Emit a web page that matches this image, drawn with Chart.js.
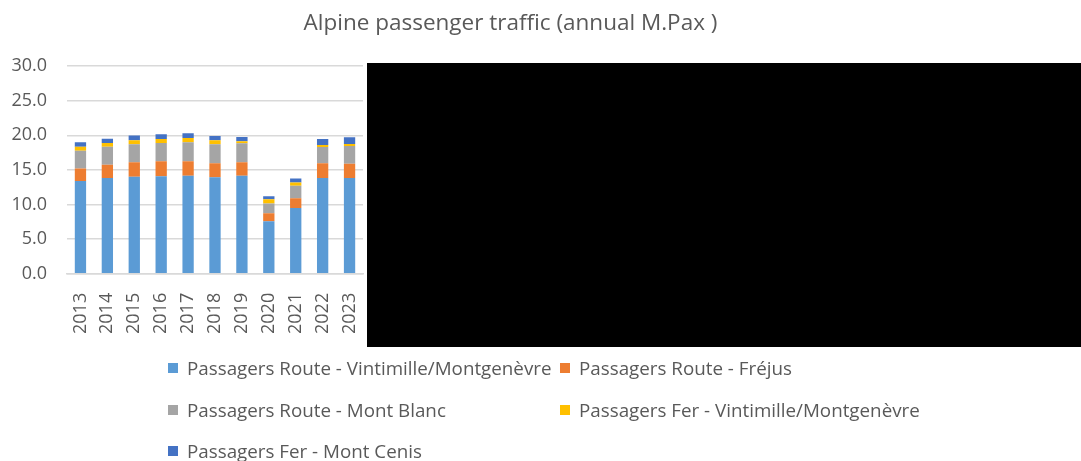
<!DOCTYPE html>
<html>
<head>
<meta charset="utf-8">
<script src="https://cdn.jsdelivr.net/npm/chart.js@4.4.1/dist/chart.umd.min.js"></script>
<style>
  html, body { margin: 0; padding: 0; background: #fff; }
  #wrap { position: relative; width: 1081px; height: 461px; overflow: hidden; }
  .lg { position: absolute; display: flex; align-items: center; white-space: nowrap;
    height: 26px; margin-top: -13px;
    font-family: "Open Sans", sans-serif; font-size: 18.8px; color: #595959; }
  .lg span { display: inline-block; flex-shrink: 0; width: 10px; height: 10px; margin-right: 9px; }
</style>
</head>
<body>
<div id="wrap">
  <canvas id="mycan" width="1081" height="461"></canvas>
</div>
<script>
var years = ['2013','2014','2015','2016','2017','2018','2019','2020','2021','2022','2023'];
var routeVintimille = [13.4, 13.85, 14.0, 14.1, 14.15, 13.95, 14.15, 7.6, 9.5, 13.85, 13.85];
var routeFrejus     = [1.8, 1.9, 2.1, 2.15, 2.1, 2.0, 1.95, 1.15, 1.4, 2.1, 2.05];
var routeMontBlanc  = [2.55, 2.6, 2.6, 2.65, 2.75, 2.75, 2.75, 1.4, 1.8, 2.35, 2.55];
var ferVintimille   = [0.6, 0.55, 0.6, 0.55, 0.6, 0.6, 0.3, 0.6, 0.5, 0.3, 0.3];
var ferMontCenis    = [0.65, 0.6, 0.65, 0.7, 0.7, 0.6, 0.6, 0.45, 0.55, 0.85, 0.95];
var yTicks = [0, 5, 10, 15, 20, 25, 30];

var seriesNames = ['Passagers Route - Vintimille/Montgenèvre', 'Passagers Route - Fréjus',
  'Passagers Route - Mont Blanc', 'Passagers Fer - Vintimille/Montgenèvre', 'Passagers Fer - Mont Cenis'];
var seriesColors = ['#5B9BD5', '#ED7D31', '#A5A5A5', '#FFC000', '#4472C4'];
var seriesData = [routeVintimille, routeFrejus, routeMontBlanc, ferVintimille, ferMontCenis];

var datasets = [];
for (var i in seriesNames) {
  datasets.push({
    label: seriesNames[i],
    data: seriesData[i],
    backgroundColor: seriesColors[i],
    borderWidth: 0,
    barPercentage: 0.42,
    categoryPercentage: 1
  });
}

// black box covering the right part of the original picture
var blackBox = {
  id: 'blackBox',
  afterDraw: function(chart) {
    var ctx = chart.ctx;
    ctx.save();
    ctx.fillStyle = '#000';
    ctx.fillRect(367, 63, 1081 - 367, 347 - 63);
    ctx.restore();
  }
};

var gray = '#595959';
var bargraph = new Chart(document.getElementById('mycan'), {
  type: 'bar',
  data: { labels: years, datasets: datasets },
  plugins: [blackBox],
  options: {
    responsive: false,
    animation: false,
    layout: { padding: { left: 10, right: 70, top: 9, bottom: 116 } },
    plugins: {
      legend: { display: false },
      tooltip: { enabled: false },
      title: {
        display: true,
        text: 'Alpine passenger traffic (annual M.Pax )',
        color: gray,
        font: { family: 'Open Sans', size: 22.5, weight: 'normal' },
        padding: { top: 1, bottom: 29 }
      }
    },
    scales: {
      x: {
        stacked: true,
        grid: { display: false },
        border: { color: '#D9D9D9', width: 1.5 },
        ticks: {
          color: gray, font: { family: 'Open Sans', size: 18 },
          minRotation: 90, maxRotation: 90, padding: 11
        }
      },
      y: {
        stacked: true,
        min: 0, max: 30,
        afterBuildTicks: function(scale) {
          scale.ticks = yTicks.map(function(v) { return { value: v }; });
        },
        afterFit: function(scale) { scale.width = 57; },
        grid: { color: '#D9D9D9', lineWidth: 1.5, drawTicks: false },
        border: { display: false },
        ticks: {
          color: gray, font: { family: 'Open Sans', size: 18 }, padding: 20,
          callback: function(v) { return v.toFixed(1); }
        }
      },
      spacer: {
        position: 'right',
        display: true,
        grid: { display: false, drawTicks: false },
        border: { display: false },
        ticks: { display: false },
        afterFit: function(scale) { scale.width = 1081 - 70 - 363; }
      }
    }
  }
});

// legend laid out in two columns like the original
var legendX = [168, 560];
var legendY = [368, 410, 451];
var wrap = document.getElementById('wrap');
for (var j = 0; j < seriesNames.length; j++) {
  var item = document.createElement('div');
  item.className = 'lg';
  item.style.left = legendX[j % 2] + 'px';
  item.style.top = legendY[Math.floor(j / 2)] + 'px';
  item.innerHTML = '<span style="background:' + seriesColors[j] + '"></span>' + seriesNames[j];
  wrap.appendChild(item);
}
</script>
</body>
</html>
